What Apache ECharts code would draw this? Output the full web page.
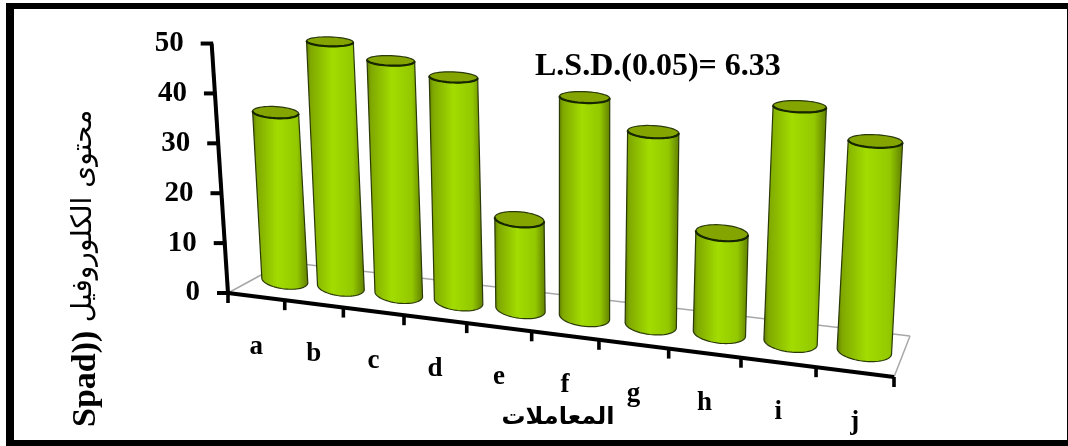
<!DOCTYPE html>
<html>
<head>
<meta charset="utf-8">
<style>html,body{margin:0;padding:0;background:#fff}#chart{width:1068px;height:446px}</style>
<script src="https://cdn.jsdelivr.net/npm/echarts@6/dist/echarts.min.js"></script>
</head>
<body>
<div id="chart"></div>
<script>
// Chlorophyll content per treatment
const categories = ['a', 'b', 'c', 'd', 'e', 'f', 'g', 'h', 'i', 'j'];
const chlorophyll = [34.6, 50, 47, 44.6, 17.6, 42.6, 37, 19, 44, 38.7];
const valueTicks = [0, 10, 20, 30, 40, 50];
const lsdNote = 'L.S.D.(0.05)= 6.33';
const yTitleArabic = 'محتوى الكلوروفيل';
const yTitleLatin = 'Spad))';
const xTitle = 'المعاملات';

const SERIF = '"Liberation Serif", "DejaVu Serif", serif';
const GRID = { left: 228, top: 43, width: 666, height: 250 };

// Floor corners: front-left, front-right, back-right, back-left
const floor = [[228, 293], [894, 377], [910, 336], [285, 262]];
const vanish = [582, 5700];   // verticals converge on this point
const widthWarp = 1.05;       // extra foreshortening along the category direction

// Unit square to floor quad
const homography = (function () {
  const [p0, p1, p2, p3] = floor;
  const sx = p0[0] - p1[0] + p2[0] - p3[0], sy = p0[1] - p1[1] + p2[1] - p3[1];
  const dx1 = p1[0] - p2[0], dx2 = p3[0] - p2[0], dy1 = p1[1] - p2[1], dy2 = p3[1] - p2[1];
  const den = dx1 * dy2 - dx2 * dy1;
  const g = (sx * dy2 - dx2 * sy) / den, h = (dx1 * sy - sx * dy1) / den;
  return {
    a: p1[0] - p0[0] + g * p1[0], b: p3[0] - p0[0] + h * p3[0], c: p0[0],
    d: p1[1] - p0[1] + g * p1[1], e: p3[1] - p0[1] + h * p3[1], f: p0[1], g, h
  };
})();

function onFloor(u, w) {
  const t = u / (u + widthWarp * (1 - u));
  const H = homography, W = 1 + H.g * t + H.h * w;
  return { x: (H.a * t + H.b * w + H.c) / W, y: (H.d * t + H.e * w + H.f) / W, s: 1 / W };
}

function raise(p, px) {
  const dx = p.x - vanish[0], dy = p.y - vanish[1], len = Math.hypot(dx, dy);
  return { x: p.x + dx / len * px * p.s, y: p.y + dy / len * px * p.s, s: p.s };
}

// Point on a tilted ellipse; angle 0 is the right end, PI/2 the front
function ringPoint(c, rx, ry, tilt, a) {
  const ex = rx * Math.cos(a), ey = ry * Math.sin(a);
  return [c.x + ex - ey * tilt, c.y + ey + ex * tilt];
}
function arc(c, rx, ry, tilt, from, to, n) {
  const pts = [];
  for (let i = 0; i <= n; i++) pts.push(ringPoint(c, rx, ry, tilt, from + (to - from) * i / n));
  return pts;
}

function renderColumn(params, api) {
  const i = api.value(0);
  const zero = api.coord([i, 0]), top = api.coord([i, api.value(1)]);
  const u = (zero[0] - GRID.left) / GRID.width;
  const height = zero[1] - top[1];
  const base = onFloor(u, 0.5), head = raise(base, height);
  const rx = 24 * Math.pow(base.s, 1.5);
  const bodyFill = {
    type: 'linear', x: 0, y: 0, x2: 1, y2: 0,
    colorStops: [
      { offset: 0, color: '#5d7a00' }, { offset: 0.08, color: '#7fa800' },
      { offset: 0.45, color: '#a2dc00' }, { offset: 0.8, color: '#93c800' },
      { offset: 1, color: '#5f7d00' }
    ]
  };
  const headRy = rx * (0.37 - 0.17 * height / 250), baseRy = rx * 0.37;
  const headTilt = 0.12 - 0.09 * height / 250, baseTilt = 0.12;
  const body = arc(base, rx, baseRy, baseTilt, Math.PI, 0, 32)
    .concat([ringPoint(head, rx, headRy, headTilt, 0), ringPoint(head, rx, headRy, headTilt, Math.PI)]);
  return {
    type: 'group',
    children: [
      { type: 'polygon', shape: { points: body }, style: { fill: bodyFill, stroke: '#2b3a06', lineWidth: 1.2 } },
      { type: 'polygon', shape: { points: arc(head, rx, headRy, headTilt, 0, Math.PI * 2, 48) },
        style: { fill: '#84a400', stroke: '#2a3a0a', lineWidth: 1.2 } },
      { type: 'polyline', shape: { points: arc(head, rx, headRy, headTilt, 0, Math.PI, 24) },
        style: { fill: 'none', stroke: '#162600', lineWidth: 2.2 } }
    ]
  };
}

function renderFrame(params, api) {
  const kids = [];
  const corner = u => onFloor(u, 0);
  const back = (a, b) => ({ type: 'line', shape: { x1: a.x, y1: a.y, x2: b.x, y2: b.y },
    style: { stroke: '#a8a8a8', lineWidth: 1.5 } });
  kids.push(back(onFloor(0, 0), onFloor(0, 1)), back(onFloor(0, 1), onFloor(1, 1)), back(onFloor(1, 1), onFloor(1, 0)));

  const black = (x1, y1, x2, y2, w) => ({ type: 'line', shape: { x1, y1, x2, y2 },
    style: { stroke: '#000', lineWidth: w, lineCap: 'butt' } });

  // Value axis with its ticks and labels
  const origin = corner(0);
  const zeroY = api.coord([0, 0])[1];
  const axisTop = raise(origin, zeroY - api.coord([0, valueTicks[valueTicks.length - 1]])[1]);
  kids.push(black(origin.x, origin.y, axisTop.x, axisTop.y, 4));
  valueTicks.forEach(t => {
    const p = raise(origin, zeroY - api.coord([0, t])[1]);
    kids.push(black(p.x - 11, p.y, p.x + 1.5, p.y, 4));
    kids.push({ type: 'text', style: { x: p.x - 28, y: p.y, text: String(t), fill: '#000',
      font: 'bold 29px ' + SERIF, textAlign: 'right', textVerticalAlign: 'middle' } });
  });

  // Category axis along the front of the floor
  const end = corner(1);
  kids.push(black(origin.x, origin.y, end.x, end.y, 4));
  for (let k = 0; k <= categories.length; k++) {
    const p = corner(k / categories.length);
    kids.push(black(p.x, p.y, p.x, p.y + 10, 3.6));
  }
  categories.forEach((name, k) => {
    const u = (api.coord([k, 0])[0] - GRID.left) / GRID.width;
    const p = corner(u);
    kids.push({ type: 'text', style: { x: p.x, y: p.y + 50, text: name, fill: '#000',
      font: 'bold 27px ' + SERIF, textAlign: 'center', textVerticalAlign: 'middle' } });
  });
  return { type: 'group', children: kids };
}

const chart = echarts.init(document.getElementById('chart'), null, { renderer: 'canvas' });
chart.setOption({
  animation: false,
  backgroundColor: '#fff',
  grid: GRID,
  xAxis: { type: 'category', data: categories, show: false },
  yAxis: { type: 'value', min: 0, max: 50, interval: 10, show: false },
  graphic: [
    { type: 'rect', shape: { x: 6, y: 3, width: 1062, height: 6 }, style: { fill: '#000' }, silent: true },
    { type: 'rect', shape: { x: 6, y: 440, width: 1062, height: 6 }, style: { fill: '#000' }, silent: true },
    { type: 'rect', shape: { x: 6, y: 3, width: 8, height: 443 }, style: { fill: '#000' }, silent: true },
    { type: 'rect', shape: { x: 1067, y: 3, width: 1, height: 443 }, style: { fill: '#000' }, silent: true },
    { type: 'text', x: 535, y: 67, style: { text: lsdNote, fill: '#000', font: 'bold 32px ' + SERIF,
      textAlign: 'left', textVerticalAlign: 'middle' } },
    { type: 'text', x: 86, y: 427, rotation: Math.PI / 2, style: { text: yTitleLatin, fill: '#000',
      font: 'bold 34px ' + SERIF, textAlign: 'left', textVerticalAlign: 'middle' } },
    { type: 'text', x: 84, y: 216, rotation: Math.PI / 2, style: { text: yTitleArabic, fill: '#000',
      font: '28px "DejaVu Sans"', textAlign: 'center', textVerticalAlign: 'middle' } },
    { type: 'text', x: 558, y: 418, style: { text: xTitle, fill: '#000',
      font: 'bold 24px "DejaVu Sans"', textAlign: 'center', textVerticalAlign: 'middle' } }
  ],
  series: [
    { type: 'custom', name: 'frame', coordinateSystem: 'cartesian2d', data: [[0, 0]], z: 1, silent: true, renderItem: renderFrame },
    { type: 'custom', name: 'Spad', coordinateSystem: 'cartesian2d', z: 2, silent: true, renderItem: renderColumn,
      encode: { x: 0, y: 1 }, data: chlorophyll.map((v, i) => [i, v]) }
  ]
});
</script>
</body>
</html>
